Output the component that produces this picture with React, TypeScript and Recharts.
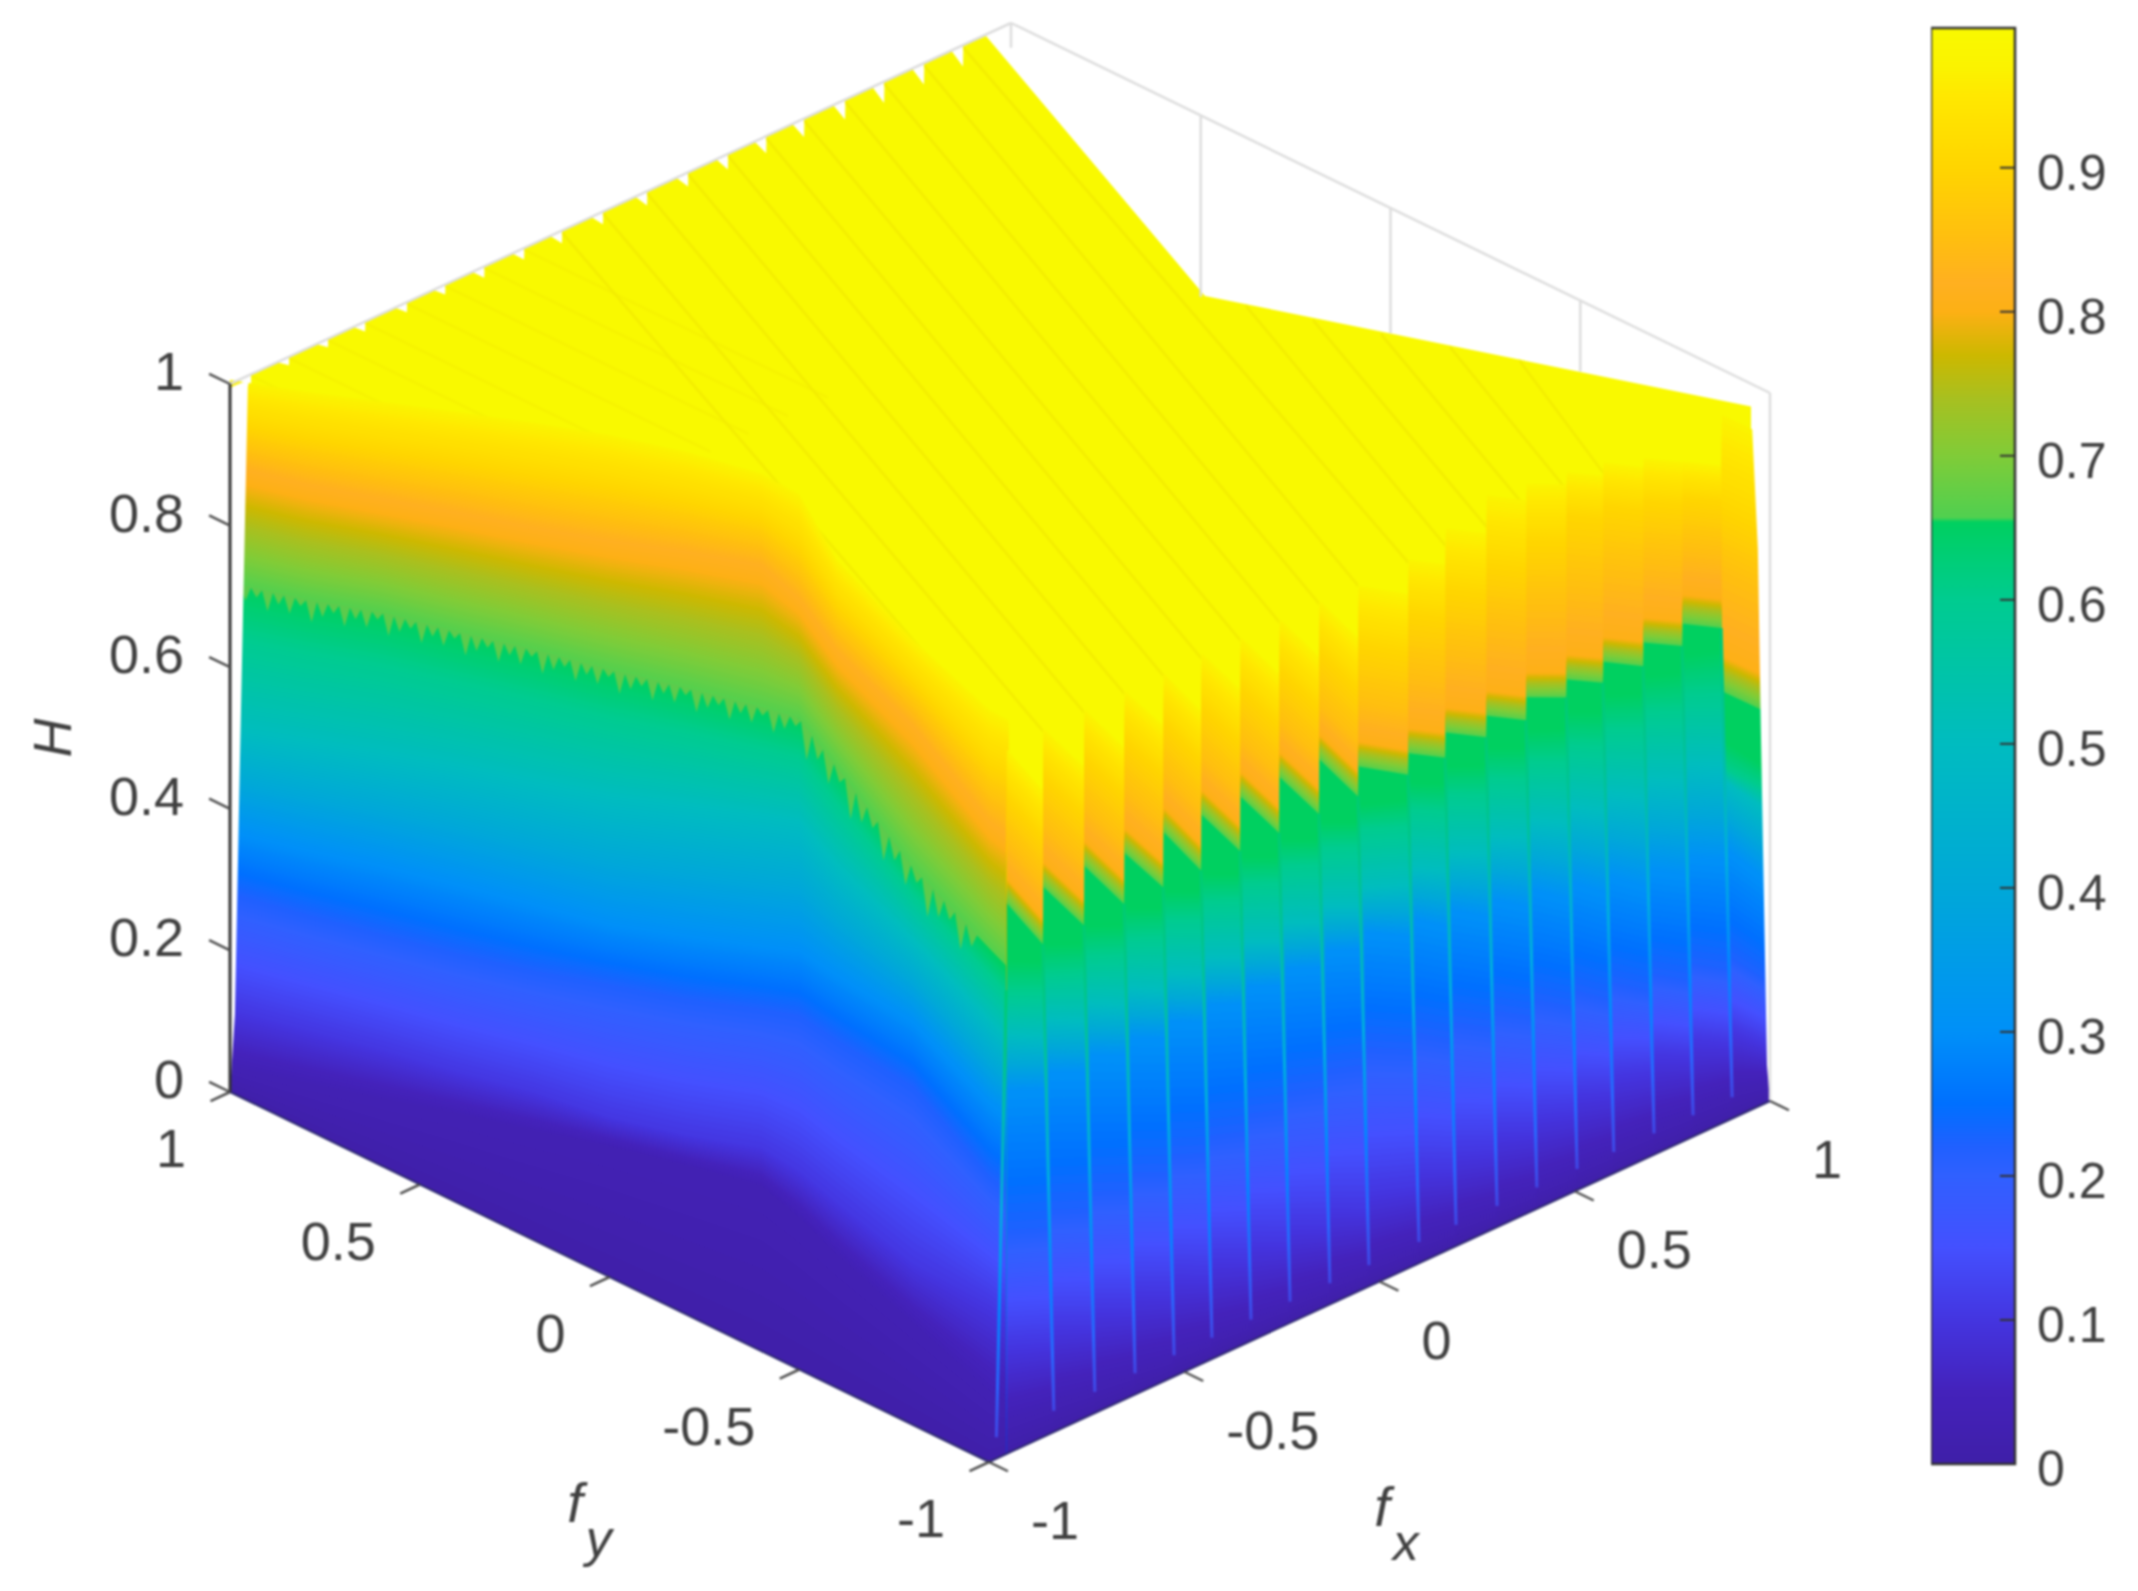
import React from "react";
import {
  Area,
  Bar,
  BarChart,
  ComposedChart,
  Line,
  XAxis,
  YAxis,
} from "recharts";

const TEXT = "#404040";
const FONT = "'Liberation Sans', Arial, sans-serif";

// colour bar
const colorStops: [number, string][] = [
  [0, "#3F1FA8"],
  [0.05, "#4422BB"],
  [0.1, "#4435E0"],
  [0.15, "#4450FF"],
  [0.2, "#3060FF"],
  [0.22, "#2060FF"],
  [0.25, "#0070FF"],
  [0.3, "#0090F8"],
  [0.4, "#00A8D8"],
  [0.5, "#00BCC0"],
  [0.6, "#00CC90"],
  [0.654, "#00D060"],
  [0.657, "#50D050"],
  [0.7, "#80CC38"],
  [0.74, "#A8C020"],
  [0.77, "#CDB800"],
  [0.8, "#FDB015"],
  [0.82, "#FFB020"],
  [0.85, "#FFBE10"],
  [0.9, "#FFD500"],
  [0.95, "#FFE800"],
  [0.97, "#FBF300"],
  [0.997, "#F9F900"],
];
const colorBarTicks = [0, 0.1, 0.2, 0.3, 0.4, 0.5, 0.6, 0.7, 0.8, 0.9];
const colorBarMax = 0.997;

// axes
const hTicks = [0, 0.2, 0.4, 0.6, 0.8, 1];
const hLabels = ["0", "0.2", "0.4", "0.6", "0.8", "1"];
const fyTicks = [1, 0.5, 0, -0.5, -1];
const fyLabels = ["1", "0.5", "0", "-0.5", "-1"];
const fxTicks = [-1, -0.5, 0, 0.5, 1];
const fxLabels = ["-1", "-0.5", "0", "0.5", "1"];
const backGridFy = [0.5, 0, -0.5];
const backGridStop = [0.744, 0.823, 0.9];

// left wall (fx = -1 side), height at which each colour level shows up
const leftFx = [-1, -1, -1, -1, -1, -1, -1, -1, -1, -1, -1, -1, -0.95];
const leftFy = [1, 0.8, 0.6, 0.4, 0.2, 0, -0.2, -0.4, -0.5, -0.6, -0.8, -1, -1];
const leftPale = [1.006, 1.041, 1.079, 1.117, 1.154, 1.189, 1.218, 1.239, 1.236, 1.169, 1.109, 1.062, 1.035];
const leftGold = [0.945, 0.976, 1.011, 1.047, 1.081, 1.116, 1.148, 1.175, 1.162, 1.106, 1.049, 0.984, 0.958];
const leftOrange = [0.886, 0.912, 0.944, 0.977, 1.008, 1.042, 1.079, 1.112, 1.09, 1.042, 0.989, 0.907, 0.873];
const leftStep = [0.719, 0.747, 0.781, 0.806, 0.833, 0.857, 0.884, 0.908, 0.919, 0.876, 0.787, 0.726, 0.685];
const leftTeal = [0.511, 0.547, 0.582, 0.616, 0.647, 0.679, 0.718, 0.756, 0.774, 0.737, 0.685, 0.624, 0.583];
const leftSky = [0.37, 0.397, 0.427, 0.453, 0.477, 0.501, 0.537, 0.575, 0.595, 0.586, 0.572, 0.511, 0.477];
const leftBlue = [0.282, 0.304, 0.328, 0.353, 0.381, 0.414, 0.446, 0.484, 0.501, 0.492, 0.479, 0.405, 0.371];
const leftViolet = [0.116, 0.14, 0.164, 0.185, 0.209, 0.225, 0.253, 0.287, 0.28, 0.261, 0.227, 0.222, 0.188];
const leftDark = [0.037, 0.066, 0.096, 0.127, 0.155, 0.185, 0.21, 0.234, 0.215, 0.189, 0.145, 0.102, 0.071];
// mesh spikes along the colour step, repeated along the wall
const meshSpikes = [0.02, 0.012, 0.028, 0.015, 0.024, 0.01, 0.03];

// right wall (fy = -1 side), one column per fold
const wallFolds = [-0.956, -0.862, -0.757, -0.654, -0.554, -0.457, -0.357, -0.257, -0.155, -0.055, 0.073, 0.168, 0.273, 0.375, 0.478, 0.572, 0.675, 0.775, 0.875, 1];
const toothStart = [0.777, 0.776, 0.779, 0.771, 0.775, 0.775, 0.775, 0.777, 0.776, 0.741, 0.727, 0.732, 0.729, 0.729, 0.728, 0.729, 0.73, 0.731, 0.61];
const toothEnd = [0.696, 0.696, 0.7, 0.698, 0.697, 0.699, 0.699, 0.7, 0.699, 0.697, 0.697, 0.699, 0.697, 0.703, 0.7, 0.697, 0.7, 0.7, 0.547];
const wallAmber = [0.812, 0.811, 0.814, 0.806, 0.81, 0.81, 0.81, 0.812, 0.811, 0.776, 0.762, 0.767, 0.764, 0.764, 0.763, 0.764, 0.765, 0.772, 0.66];
const wallOrange = [0.866, 0.866, 0.865, 0.862, 0.862, 0.858, 0.858, 0.858, 0.855, 0.833, 0.84, 0.85, 0.86, 0.86, 0.86, 0.86, 0.85, 0.84, 0.78];
const wallGold = [0.93, 0.934, 0.934, 0.932, 0.932, 0.93, 0.93, 0.93, 0.93, 0.915, 0.925, 0.935, 0.945, 0.95, 0.96, 0.95, 0.93, 0.91, 0.87];
const wallPale = [0.995, 1, 1, 1, 1, 1.003, 1, 1, 1, 0.996, 1, 1.02, 1.04, 1.03, 1.02, 1.01, 0.99, 0.96, 1];

const lowerFx = [-0.956, -0.5, -0.05, 0.4, 0.7, 0.875, 0.876, 0.95, 1];
const lowerGreen = [0.685, 0.68, 0.675, 0.67, 0.67, 0.68, 0.53, 0.51, 0.48];
const lowerMint = [0.64, 0.64, 0.64, 0.625, 0.62, 0.62, 0.49, 0.47, 0.45];
const lowerTeal = [0.58, 0.56, 0.555, 0.54, 0.52, 0.515, 0.47, 0.44, 0.42];
const lowerSky = [0.501, 0.491, 0.491, 0.438, 0.389, 0.38, 0.37, 0.33, 0.32];
const lowerBlue = [0.304, 0.303, 0.328, 0.284, 0.243, 0.225, 0.22, 0.19, 0.18];
const lowerViolet = [0.141, 0.132, 0.122, 0.122, 0.132, 0.12, 0.115, 0.098, 0.09];
const lowerDark = [0.047, 0.029, 0.028, 0.027, 0.038, 0.04, 0.04, 0.039, 0.03];
const lowerZero = [0, 0, 0, 0, 0, 0, 0, 0, 0];

// plateau outline: back edge with its notches, then the fx = 1 edge
const crestFolds = [-0.946, -0.849, -0.749, -0.654, -0.547, -0.449, -0.349, -0.247, -0.15, -0.045, 0.068, 0.173, 0.275, 0.373, 0.47, 0.575, 0.675, 0.777, 0.877];
const crestNotch = [0.012, 0.012, 0.012, 0.014, 0.014, 0.014, 0.016, 0.016, 0.018, 0.018, 0.02, 0.02, 0.022, 0.024, 0.026, 0.028, 0.03, 0.03, 0.03];
const edgeFy = [0.489, -0.95];
const edgeH = [0.748, 0.968];
const ridgeEdgeFy = [0.381, 0.204, 0.025, -0.157, -0.34];
const ridgeEdgeH = [0.765, 0.791, 0.818, 0.847, 0.876];

// outer silhouette of the walls
const leftEdgeH = [0, 0.11, 0.542, 0.996, 1.016];
const leftEdgeFy = [1, 0.987, 0.971, 0.953, 0.945];
const rightEdgeH = [0, 0.051, 0.521, 0.78, 0.984];
const rightEdgeFy = [-1, -0.992, -0.976, -0.968, -0.95];

// view of the 3D box on the picture plane
const project = (fx: number, fy: number, h: number) => ({
  vx: 989 + ((fx + 1) / 2) * 781 - ((fy + 1) / 2) * 759,
  vy: 1462 - ((fx + 1) / 2) * 361 - ((fy + 1) / 2) * 370 - h * 708,
});

const hexToRgb = (hex: string) => [1, 3, 5].map((i) => parseInt(hex.slice(i, i + 2), 16));

const levelColor = (level: number) => {
  for (let i = 1; i < colorStops.length; i++) {
    const [l0, c0] = colorStops[i - 1];
    const [l1, c1] = colorStops[i];
    if (level <= l1) {
      const t = Math.max(0, (level - l0) / (l1 - l0));
      const a = hexToRgb(c0);
      const b = hexToRgb(c1);
      return `rgb(${a.map((v, k) => Math.round(v + (b[k] - v) * t)).join(",")})`;
    }
  }
  return colorStops[colorStops.length - 1][1];
};

const rangeKey = (d: any) => [d.lo, d.hi];

const between = (xs: number[], ys: number[], x: number) => {
  for (let i = 1; i < xs.length; i++) {
    if (x <= xs[i]) return ys[i - 1] + ((ys[i] - ys[i - 1]) * (x - xs[i - 1])) / (xs[i] - xs[i - 1]);
  }
  return ys[ys.length - 1];
};

type Station = { fx: number; fy: number };
type Row = { level: number; heights: number[] };

// painted from the top level down, every band reaches the floor so no seams show
const buildBands = (
  rows: Row[],
  point: (i: number, level: number, height: number) => { vx: number; hi: number; lo: number },
) => {
  const bands: { color: string; data: any[] }[] = [];
  const push = (level: number, heights: number[]) => {
    bands.push({
      color: levelColor(level),
      data: heights.map((h, i) => point(i, level, h)),
    });
  };
  rows.forEach((row, r) => {
    const next = rows[r + 1];
    if (!next) return push(row.level, row.heights);
    const gap = row.level - next.level;
    const steps = Math.max(1, Math.ceil(gap / 0.005));
    for (let s = 0; s < steps; s++) {
      const t = s / steps;
      push(
        row.level - gap * t,
        row.heights.map((v, i) => v + (next.heights[i] - v) * t),
      );
    }
  });
  return bands;
};

const stationPoint = (stations: Station[]) => (i: number, _level: number, h: number) => {
  const s = stations[i];
  const top = project(s.fx, s.fy, h);
  return { vx: top.vx, hi: top.vy, lo: project(s.fx, s.fy, 0).vy };
};

const leftStations = leftFy.map((fy, i) => ({ fx: leftFx[i], fy }));
const leftBands = buildBands(
  [
    { level: 0.97, heights: leftPale },
    { level: 0.9, heights: leftGold },
    { level: 0.82, heights: leftOrange },
    { level: 0.657, heights: leftStep },
    { level: 0.654, heights: leftStep },
    { level: 0.5, heights: leftTeal },
    { level: 0.3, heights: leftSky },
    { level: 0.22, heights: leftBlue },
    { level: 0.1, heights: leftViolet },
    { level: 0.03, heights: leftDark },
    { level: 0, heights: leftFy.map(() => 0) },
  ],
  stationPoint(leftStations),
);

// lime spikes hanging from the colour step of the left wall
const leftXs = leftStations.map((s) => project(s.fx, s.fy, 0).vx);
const leftStepYs = leftStations.map((s, i) => project(s.fx, s.fy, leftStep[i]).vy);
const spikeData = Array.from({ length: 135 }, (_, i) => {
  const vx = 240 + i * 5.5;
  const y = between(leftXs, leftStepYs, vx);
  const k = i % 2 === 1 ? meshSpikes[((i - 1) / 2) % meshSpikes.length] : 0;
  return { vx, hi: y - 1, lo: y + k * 708 * (vx > 800 ? 1.6 : 1) };
});

const columns = toothStart.map((_, i) => i);
const sawStations = columns.flatMap((i) => [
  { fx: wallFolds[i] + 0.002, fy: -1 },
  { fx: wallFolds[i + 1], fy: -1 },
]);
const sawRow = (starts: number[]) =>
  columns.flatMap((i) => [starts[i], starts[i] - (toothStart[i] - toothEnd[i])]);
const upperWallBands = buildBands(
  [
    { level: 0.97, heights: sawRow(wallPale) },
    { level: 0.9, heights: sawRow(wallGold) },
    { level: 0.85, heights: sawRow(wallOrange) },
    { level: 0.8, heights: sawRow(wallAmber) },
    { level: 0.657, heights: sawRow(toothStart) },
    { level: 0.654, heights: sawRow(toothStart) },
  ],
  stationPoint(sawStations),
);

// the folds lean to the right on their way down
const foldLean = 0.028;
const lowerRow = (row: number[]) => sawStations.map((s) => between(lowerFx, row, s.fx));
const lowerWallBands = buildBands(
  [
    { level: 0.652, heights: lowerRow(lowerGreen) },
    { level: 0.6, heights: lowerRow(lowerMint) },
    { level: 0.5, heights: lowerRow(lowerTeal) },
    { level: 0.3, heights: lowerRow(lowerSky) },
    { level: 0.22, heights: lowerRow(lowerBlue) },
    { level: 0.1, heights: lowerRow(lowerViolet) },
    { level: 0.03, heights: lowerRow(lowerDark) },
    { level: 0, heights: lowerRow(lowerZero) },
  ],
  (i, level, h) => {
    const s = sawStations[i];
    const fx = i === 0 ? s.fx : Math.min(1, s.fx + foldLean * (1 - level / 0.65));
    const relief = Math.min(1, level / 0.1) * 0.012 * (i % 2 === 0 ? 1 : -1);
    const top = project(fx, -1, Math.max(0, h + relief));
    return { vx: top.vx, hi: top.vy, lo: project(fx, -1, 0).vy };
  },
);

const plateauLow = 900;
const plateauData = [
  { ...project(crestFolds[0], 1, 1), lo: plateauLow },
  ...crestFolds.slice(1).flatMap((f, i) => [
    { ...project(f - 0.03, 1, 1), lo: plateauLow },
    { ...project(f, 1, 1 - crestNotch[i + 1]), lo: plateauLow },
    { ...project(f + 0.001, 1, 1), lo: plateauLow },
  ]),
  { ...project(0.936, 1, 0.998), lo: plateauLow },
  ...edgeFy.map((fy, i) => ({ ...project(1, fy, edgeH[i]), lo: plateauLow })),
].map((p) => ({ vx: p.vx, hi: p.vy, lo: p.lo }));

const leftMask = leftEdgeH.map((h, i) => {
  const p = project(-1, leftEdgeFy[i], 0);
  const edge = project(-1, 1, h);
  return { vx: p.vx, lo: edge.vy, hi: 378 + (1 - i / 4) * 10 };
});
const rightMask = [...rightEdgeH].reverse().map((h, i, all) => {
  const fy = rightEdgeFy[all.length - 1 - i];
  const p = project(1, fy, 0);
  return { vx: p.vx, lo: project(1, -1, h).vy, hi: 398 };
});

type P = { vx: number; vy: number };
const segment = (a: P, b: P) => [a, b];
const ribbon = (a: P, b: P, t: number) => [
  { vx: a.vx, hi: a.vy, lo: a.vy + t },
  { vx: b.vx, hi: b.vy, lo: b.vy + t },
];

const steepRidges = wallFolds.slice(0, 11).map((f, j) =>
  ribbon(project(crestFolds[j + 8], 1, 1), project(f, -1, 1), 4),
);
const edgeRidges = ridgeEdgeFy.map((fy, j) =>
  ribbon(project(1, fy, ridgeEdgeH[j]), project(wallFolds[j + 11], -1, 1), 4),
);
const shallowRidges = crestFolds.slice(0, 8).map((f) =>
  ribbon(project(f, 1, 1), project(f, 0.2, 1), 3),
);
const streaks = wallFolds.slice(0, 19).map((f, i) =>
  segment(
    project(f, -1, i === 0 ? 0.655 : toothEnd[i - 1]),
    project(f + (i === 0 ? -0.025 : foldLean), -1, 0.03),
  ),
);

const backLines = [
  segment(project(-1, 1, 1), project(1, 1, 1)),
  segment(project(1, 1, 1), project(1, -1, 1)),
  segment(project(1, 1, 1), project(1, 1, 0.965)),
  ...backGridFy.map((fy, i) => segment(project(1, fy, 1), project(1, fy, backGridStop[i]))),
  segment(project(1, -1, 1), project(1, -1, 0)),
];

const axisLines = [segment(project(-1, 1, 0), project(-1, 1, 1))];
const floorLines = [
  segment(project(-1, 1, 0), project(-1, -1, 0)),
  segment(project(-1, -1, 0), project(1, -1, 0)),
];
const tickMarks = [
  ...hTicks.map((h) => segment(project(-1, 1, h), project(-1, 1.055, h))),
  ...fyTicks.map((fy) => segment(project(-1, fy, 0), project(-1.05, fy, 0))),
  ...fxTicks.map((fx) => segment(project(fx, -1, 0), project(fx, -1.05, 0))),
];

const offsetPoint = (p: P, dx: number, dy: number, label: string, anchor: string) => ({
  ...p,
  dx,
  dy,
  label,
  anchor,
});
const tickLabels = [
  ...hTicks.map((h, i) => offsetPoint(project(-1, 1, h), -46, -13, hLabels[i], "end")),
  ...fyTicks.map((fy, i) => offsetPoint(project(-1, fy, 0), -44, 56, fyLabels[i], "end")),
  ...fxTicks.map((fx, i) => offsetPoint(project(fx, -1, 0), 42, 58, fxLabels[i], "start")),
];
const hTitle = [{ ...project(-1, 1, 0.5), dx: -178, dy: 0 }];
const fyTitle = [{ ...project(-1, 0, 0), dx: -20, dy: 245 }];
const fxTitle = [{ ...project(0, -1, 0), dx: 17, dy: 244 }];

const renderTickLabel = (props: any) => {
  const { cx, cy, payload, index } = props;
  return (
    <text
      key={index}
      x={cx + payload.dx}
      y={cy + payload.dy}
      textAnchor={payload.anchor}
      dominantBaseline="central"
      fontFamily={FONT}
      fontSize={54}
      fill={TEXT}
    >
      {payload.label}
    </text>
  );
};
const renderHTitle = (props: any) => {
  const x = props.cx + props.payload.dx;
  const y = props.cy + props.payload.dy;
  return (
    <text
      key="h"
      x={x}
      y={y}
      transform={`rotate(-90 ${x} ${y})`}
      textAnchor="middle"
      dominantBaseline="central"
      fontFamily={FONT}
      fontStyle="italic"
      fontSize={54}
      fill={TEXT}
    >
      H
    </text>
  );
};
const subscriptTitle = (sub: string) => (props: any) => (
  <text
    key={sub}
    x={props.cx + props.payload.dx}
    y={props.cy + props.payload.dy}
    textAnchor="middle"
    fontFamily={FONT}
    fontStyle="italic"
    fontSize={56}
    fill={TEXT}
  >
    f
    <tspan dx={3} dy={34} fontSize={52}>
      {sub}
    </tspan>
  </text>
);
const renderFyTitle = subscriptTitle("y");
const renderFxTitle = subscriptTitle("x");

const renderBarTick = (props: any) => {
  const { x, y, payload } = props;
  return (
    <g>
      {payload.value > 0 && <line x1={x - 15} x2={x} y1={y} y2={y} stroke="#333" strokeWidth={2} />}
      <text x={x + 22} y={y + 5} dominantBaseline="central" fontFamily={FONT} fontSize={50} fill={TEXT}>
        {payload.value}
      </text>
    </g>
  );
};

const colorBarData = [{ name: "H", value: colorBarMax }];

const bandArea = (band: { color: string; data: any[] }, key: string) => (
  <Area
    key={key}
    data={band.data}
    dataKey={rangeKey}
    type="linear"
    fill={band.color}
    fillOpacity={1}
    stroke="none"
    dot={false}
    activeDot={false}
    isAnimationActive={false}
  />
);

const plainLine = (data: any[], key: string, stroke: string, width: number) => (
  <Line
    key={key}
    data={data}
    dataKey="vy"
    type="linear"
    stroke={stroke}
    strokeWidth={width}
    dot={false}
    activeDot={false}
    isAnimationActive={false}
  />
);

const textLine = (data: any[], key: string, dot: any) => (
  <Line
    key={key}
    data={data}
    dataKey="vy"
    stroke="none"
    dot={dot}
    activeDot={false}
    isAnimationActive={false}
  />
);

export default function App() {
  return (
    <div
      style={{
        position: "absolute",
        left: 0,
        top: 0,
        width: 2138,
        height: 1591,
        background: "#fff",
        filter: "blur(0.8px)",
      }}
    >
      <ComposedChart width={2138} height={1591} margin={{ top: 0, right: 0, bottom: 0, left: 0 }}>
        <defs>
          <linearGradient id="streak" x1="0" y1="0" x2="0" y2="1">
            <stop offset="0%" stopColor="#00CC70" />
            <stop offset="25%" stopColor="#00C0A0" />
            <stop offset="50%" stopColor="#00AEE0" />
            <stop offset="72%" stopColor="#0088FF" />
            <stop offset="88%" stopColor="#2868FF" />
            <stop offset="100%" stopColor="#4048E8" />
          </linearGradient>
        </defs>
        <XAxis dataKey="vx" type="number" domain={[0, 2138]} hide allowDataOverflow />
        <YAxis type="number" domain={[0, 1591]} reversed hide allowDataOverflow />

        {bandArea({ color: levelColor(0.997), data: plateauData }, "plateau")}
        {shallowRidges.map((d, i) => bandArea({ color: "#F6F300", data: d }, `shallow-${i}`))}
        {steepRidges.map((d, i) => bandArea({ color: "#F3ED00", data: d }, `steep-${i}`))}
        {edgeRidges.map((d, i) => bandArea({ color: "#F3ED00", data: d }, `edge-${i}`))}

        {leftBands.map((b, i) => bandArea(b, `left-${i}`))}
        {bandArea({ color: "#5CCB4C", data: spikeData }, "left-spikes")}
        {upperWallBands.map((b, i) => bandArea(b, `upper-${i}`))}
        {lowerWallBands.map((b, i) => bandArea(b, `lower-${i}`))}

        {bandArea({ color: "#FFFFFF", data: leftMask }, "mask-left")}
        {bandArea({ color: "#FFFFFF", data: rightMask }, "mask-right")}

        {backLines.map((d, i) => plainLine(d, `back-${i}`, "#DDDDDD", 2.5))}
        {streaks.map((d, i) => plainLine(d, `streak-${i}`, "url(#streak)", 3))}
        {floorLines.map((d, i) => plainLine(d, `floor-${i}`, "#2E2A70", 2))}
        {axisLines.map((d, i) => plainLine(d, `axis-${i}`, "#333333", 3))}
        {tickMarks.map((d, i) => plainLine(d, `tick-${i}`, "#505050", 2.5))}

        {textLine(tickLabels, "tick-labels", renderTickLabel)}
        {textLine(hTitle, "h-title", renderHTitle)}
        {textLine(fyTitle, "fy-title", renderFyTitle)}
        {textLine(fxTitle, "fx-title", renderFxTitle)}
      </ComposedChart>

      <div style={{ position: "absolute", left: 1931, top: 8 }}>
        <BarChart
          width={207}
          height={1496}
          data={colorBarData}
          margin={{ top: 20, right: 0, bottom: 40, left: 0 }}
          barCategoryGap={0}
        >
          <defs>
            <linearGradient id="parula" x1="0" y1="0" x2="0" y2="1">
              {[...colorStops].reverse().map(([level, color]) => (
                <stop key={level} offset={`${(1 - level / colorBarMax) * 100}%`} stopColor={color} />
              ))}
            </linearGradient>
          </defs>
          <XAxis dataKey="name" hide />
          <YAxis
            orientation="right"
            type="number"
            width={123}
            domain={[0, colorBarMax]}
            ticks={colorBarTicks}
            interval={0}
            axisLine={false}
            tickLine={false}
            tickSize={0}
            tickMargin={0}
            tick={renderBarTick}
          />
          <Bar
            dataKey="value"
            fill="url(#parula)"
            stroke="#333333"
            strokeWidth={2.5}
            isAnimationActive={false}
          />
        </BarChart>
      </div>
    </div>
  );
}
